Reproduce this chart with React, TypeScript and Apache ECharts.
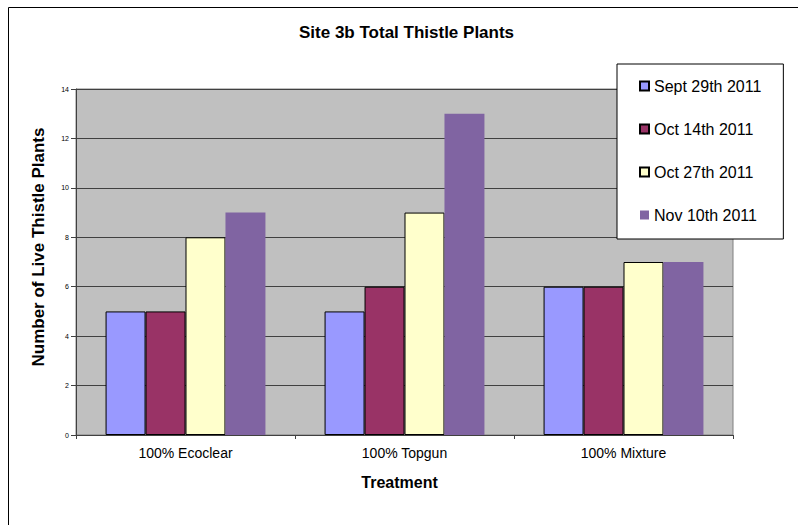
import React, { useEffect, useRef } from "react";
import * as echarts from "echarts";

const categories = ["100% Ecoclear", "100% Topgun", "100% Mixture"];
const seriesNames = ["Sept 29th 2011", "Oct 14th 2011", "Oct 27th 2011", "Nov 10th 2011"];
const sept29 = [5, 5, 6];
const oct14 = [5, 6, 6];
const oct27 = [8, 9, 7];
const nov10 = [9, 13, 7];
const seriesColors = ["#9999FF", "#993366", "#FFFFCC", "#8064A2"];
const seriesBorders = [1, 1, 1, 0];

const FONT = "Arial, 'Liberation Sans', sans-serif";

export default function App() {
  const ref = useRef<HTMLDivElement>(null);
  useEffect(() => {
    if (!ref.current) return;
    const chart = echarts.init(ref.current, null, { renderer: "svg" });
    const values = [sept29, oct14, oct27, nov10];
    chart.setOption({
      animation: false,
      backgroundColor: "#FFFFFF",
      textStyle: { fontFamily: FONT },
      title: {
        text: "Site 3b Total Thistle Plants",
        left: 299,
        top: 24,
        padding: 0,
        textStyle: { fontFamily: FONT, fontSize: 17, fontWeight: "bold", color: "#000" },
      },
      graphic: [
        {
          type: "polyline",
          shape: { points: [[8.5, 600], [8.5, 7.5], [900, 7.5]] },
          style: { fill: "none", stroke: "#000", lineWidth: 1 },
          silent: true,
          z: 0,
        },
      ],
      legend: {
        orient: "vertical",
        left: 617,
        top: 64,
        padding: [14, 22, 16, 22],
        itemWidth: 9,
        itemHeight: 9,
        itemGap: 27,
        backgroundColor: "#FFFFFF",
        borderColor: "#000",
        borderWidth: 1,
        icon: "rect",
        data: seriesNames,
        textStyle: { fontFamily: FONT, fontSize: 16, color: "#000" },
      },
      grid: {
        left: 76,
        top: 89,
        width: 657,
        height: 346,
        show: true,
        backgroundColor: "#C0C0C0",
        borderColor: "#808080",
        borderWidth: 1,
        containLabel: false,
      },
      xAxis: {
        type: "category",
        data: categories,
        name: "Treatment",
        nameLocation: "middle",
        nameGap: 39,
        nameTextStyle: { fontFamily: FONT, fontSize: 16, fontWeight: "bold", color: "#000", padding: [0, 10, 0, 0] },
        axisLine: { show: true, lineStyle: { color: "#404040", width: 1 } },
        axisTick: { show: true, length: 4, lineStyle: { color: "#404040" } },
        axisLabel: { fontFamily: FONT, fontSize: 14, color: "#000", margin: 11 },
        splitLine: { show: false },
      },
      yAxis: {
        type: "value",
        min: 0,
        max: 14,
        interval: 2,
        name: "Number of Live Thistle Plants",
        nameLocation: "middle",
        nameRotate: 90,
        nameGap: 29,
        nameTextStyle: { fontFamily: FONT, fontSize: 17, fontWeight: "bold", color: "#000", padding: [0, 0, 0, 30] },
        axisLine: { show: true, lineStyle: { color: "#404040", width: 1 } },
        axisTick: { show: true, inside: false, length: 5, lineStyle: { color: "#404040" } },
        axisLabel: { fontFamily: FONT, fontSize: 7, color: "#000", margin: 7 },
        splitLine: { show: true, lineStyle: { color: "#404040", width: 1 } },
      },
      series: seriesNames.map((name, i) => ({
        name,
        type: "bar",
        data: values[i],
        barGap: "0%",
        barCategoryGap: "27%",
        itemStyle: {
          color: seriesColors[i],
          borderColor: "#000",
          borderWidth: seriesBorders[i],
        },
      })),
    });
    return () => chart.dispose();
  }, []);
  return (
    <div
      ref={ref}
      style={{ position: "fixed", left: 0, top: 0, width: 798, height: 525 }}
    />
  );
}
